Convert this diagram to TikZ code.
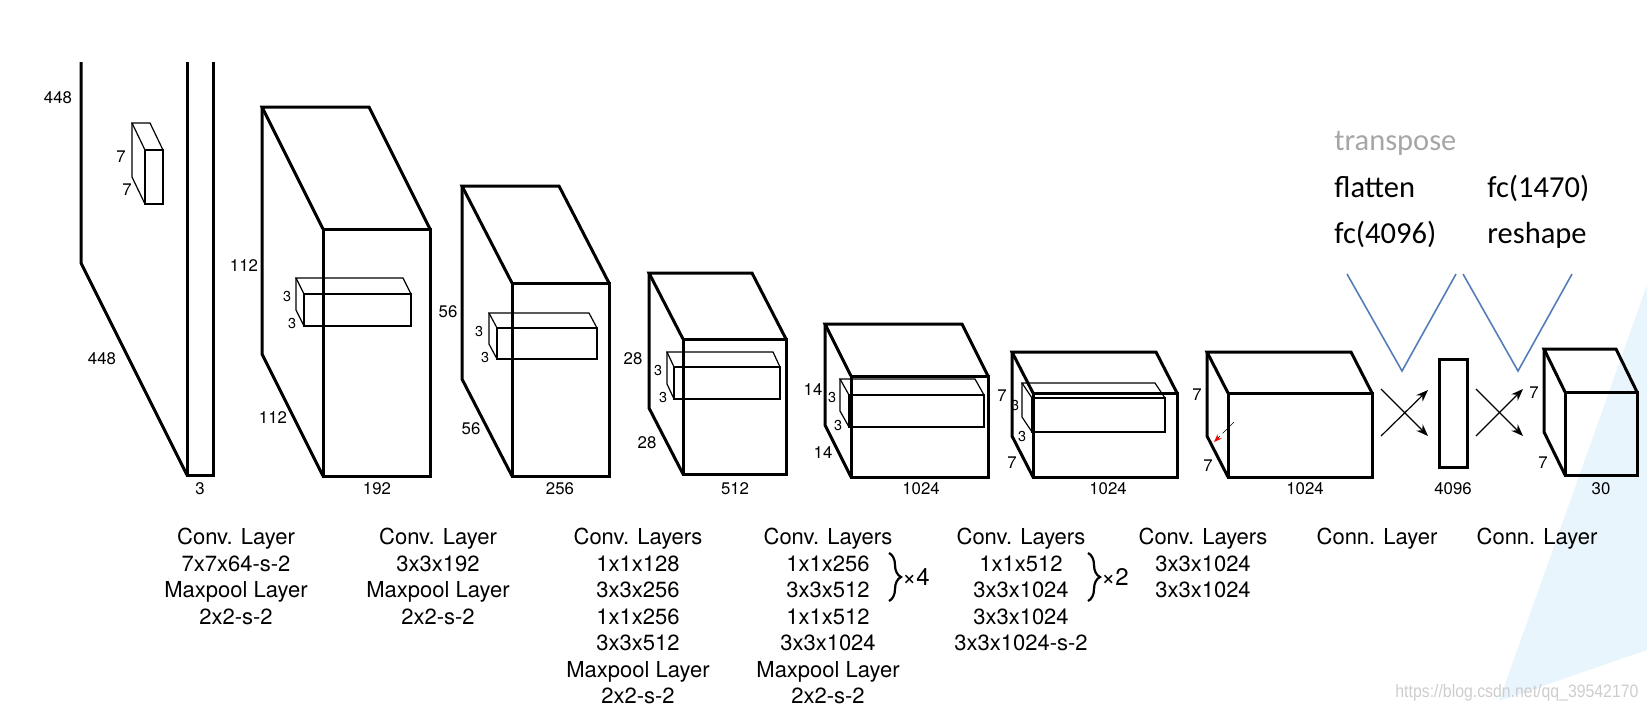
\documentclass[tikz,border=0pt]{standalone}
\usepackage{fontspec}
\setmainfont{TeX Gyre Heros}
\newfontfamily\notefont{Carlito}
\newfontfamily\markfont[FakeStretch=0.88]{Liberation Sans}
\usetikzlibrary{arrows.meta,positioning,decorations.pathreplacing}
\definecolor{vline}{RGB}{84,125,185}
\definecolor{notegray}{RGB}{166,166,166}
\definecolor{wedge}{RGB}{233,245,253}
\definecolor{markgray}{RGB}{205,205,205}

% block: front top-left (#1,#2), width #3, height #4, depth (#5,#6)
\newcommand{\convblock}[6]{%
  \draw (#1,#2) rectangle ++(#3,#4);
  \draw (#1,#2) -- ++(-#5,-#6) -- ++(#3,0) -- ++(#5,#6);
  \draw (#1,#2) ++(-#5,-#6) -- ++(0,#4) -- ++(#5,#6);
}

\begin{document}
\begin{tikzpicture}[x=0.5pt, y=-0.5pt,
    thickline/.style={line width=1.5pt},
    thinline/.style={line width=0.6pt},
    dimlabel/.style={font=\fontsize{8.4}{10}\selectfont, inner sep=0pt},
    kernlabel/.style={font=\fontsize{7.2}{9}\selectfont, inner sep=0pt},
    layertext/.style={font=\fontsize{11}{13.25}\selectfont, align=center, anchor=north, inner sep=0pt},
    note/.style={font=\notefont\fontsize{15.25}{18}\selectfont, anchor=base west, inner sep=0pt},
    xarrow/.style={line width=0.6pt, -{Stealth[length=6pt, width=4.5pt]}},
    vstroke/.style={vline, line width=0.8pt},
    repbrace/.style={line width=1.1pt, decoration={brace, amplitude=6pt}, decorate},
    reptext/.style={font=\fontsize{12}{14}\selectfont, anchor=west, inner sep=0pt}]

    \useasboundingbox (0,0) rectangle (1647,709);

    % Background wedge
    \fill[wedge] (1647,285) -- (1647,650) -- (1499,701) -- cycle;

    % Input slab
    \draw[thickline] (81,62) -- (81,263) -- (187,475);
    \draw[thickline] (187,62) -- (187,475) -- (213,475) -- (213,62);
    \begin{scope}[thinline]
        \convblock{145}{150}{18}{54}{13}{27}
    \end{scope}
    \node[dimlabel] (inh) at (58,98) {448};
    \node[dimlabel] (inw) at (102,359) {448};
    \node[dimlabel] (k1h) at (121,157) {7};
    \node[dimlabel] (k1w) at (127,190) {7};
    \node[dimlabel] (inc) at (200,489) {3};

    % Block 2
    \begin{scope}[thickline]
        \convblock{323}{229}{107}{247}{61}{122}
    \end{scope}
    \begin{scope}[thinline]
        \convblock{304}{294}{107}{32}{8}{16}
    \end{scope}
    \node[dimlabel] (b2h) at (244,266) {112};
    \node[dimlabel] (b2w) at (273,418) {112};
    \node[kernlabel] (k2h) at (287,296) {3};
    \node[kernlabel] (k2w) at (292,323) {3};
    \node[dimlabel] (b2c) at (377,489) {192};

    % Block 3
    \begin{scope}[thickline]
        \convblock{512}{283}{97}{193}{50}{97}
    \end{scope}
    \begin{scope}[thinline]
        \convblock{497}{328}{100}{31}{8}{15}
    \end{scope}
    \node[dimlabel] (b3h) at (448,312) {56};
    \node[dimlabel] (b3w) at (471,429) {56};
    \node[kernlabel] (k3h) at (479,331) {3};
    \node[kernlabel] (k3w) at (485,357) {3};
    \node[dimlabel] (b3c) at (560,489) {256};

    % Block 4
    \begin{scope}[thickline]
        \convblock{683}{339}{103}{135}{34}{66}
    \end{scope}
    \begin{scope}[thinline]
        \convblock{674}{367}{106}{32}{7}{15}
    \end{scope}
    \node[dimlabel] (b4h) at (633,359) {28};
    \node[dimlabel] (b4w) at (647,443) {28};
    \node[kernlabel] (k4h) at (658,370) {3};
    \node[kernlabel] (k4w) at (663,397) {3};
    \node[dimlabel] (b4c) at (735,489) {512};

    % Block 5
    \begin{scope}[thickline]
        \convblock{851}{376}{137}{101}{26}{52}
    \end{scope}
    \begin{scope}[thinline]
        \convblock{849}{395}{135}{32}{9}{16}
    \end{scope}
    \node[dimlabel] (b5h) at (813,390) {14};
    \node[dimlabel] (b5w) at (823,453) {14};
    \node[kernlabel] (k5h) at (832,397) {3};
    \node[kernlabel] (k5w) at (838,425) {3};
    \node[dimlabel] (b5c) at (921,489) {1024};

    % Block 6
    \begin{scope}[thickline]
        \convblock{1033}{393}{144}{84}{21}{41}
    \end{scope}
    \begin{scope}[thinline]
        \convblock{1032}{398}{133}{34}{10}{15}
    \end{scope}
    \node[dimlabel] (b6h) at (1002,396) {7};
    \node[dimlabel] (b6w) at (1012,463) {7};
    \node[kernlabel] (k6h) at (1015,405) {3};
    \node[kernlabel] (k6w) at (1022,436) {3};
    \node[dimlabel] (b6c) at (1108,489) {1024};

    % Block 7
    \begin{scope}[thickline]
        \convblock{1228}{393}{144}{84}{21}{41}
    \end{scope}
    \node[dimlabel] (b7h) at (1197,395) {7};
    \node[dimlabel] (b7w) at (1208,466) {7};
    \node[dimlabel] (b7c) at (1305,489) {1024};
    \coordinate (cur1) at (1234,422);
    \coordinate (cur2) at (1214,442);
    \draw[line width=0.3pt, densely dashed, -{Stealth[color=red, length=4pt, width=3pt]}] (cur1) -- (cur2);

    % Fully connected vector
    \draw[thickline] (1439,359) rectangle (1467,467);
    \node[dimlabel] (fcc) at (1453,489) {4096};

    % Output block
    \begin{scope}[thickline]
        \convblock{1565}{392}{72}{83}{21}{43}
    \end{scope}
    \node[dimlabel] (b8h) at (1534,393) {7};
    \node[dimlabel] (b8w) at (1543,463) {7};
    \node[dimlabel] (b8c) at (1601,489) {30};

    % Crossing arrows
    \coordinate (xa1) at (1381,389);
    \coordinate (xa2) at (1428,436);
    \coordinate (xa3) at (1381,436);
    \coordinate (xa4) at (1428,390);
    \coordinate (xb1) at (1476,389);
    \coordinate (xb2) at (1523,436);
    \coordinate (xb3) at (1476,436);
    \coordinate (xb4) at (1523,389);
    \draw[xarrow] (xa1) -- (xa2);
    \draw[xarrow] (xa3) -- (xa4);
    \draw[xarrow] (xb1) -- (xb2);
    \draw[xarrow] (xb3) -- (xb4);

    % Notes
    \node[note, text=notegray] (transpose) at (1334,150) {transpose};
    \node[note] (flatten) at (1334,197) {flatten};
    \node[note] (fcfour) at (1334,243) {fc(4096)};
    \node[note] (fcout) at (1487,197) {fc(1470)};
    \node[note] (reshape) at (1487,243) {reshape};
    \coordinate (v1a) at (1347,274);
    \coordinate (v1b) at (1402,371);
    \coordinate (v1c) at (1456,274);
    \coordinate (v2a) at (1463,274);
    \coordinate (v2b) at (1518,371);
    \coordinate (v2c) at (1572,274);
    \draw[vstroke] (v1a) -- (v1b) -- (v1c);
    \draw[vstroke] (v2a) -- (v2b) -- (v2c);

    % Layer descriptions
    \node[layertext] (desc1) at (236,528) {Conv. Layer\\7x7x64-s-2\\Maxpool Layer\\2x2-s-2};
    \node[layertext] (desc2) at (438,528) {Conv. Layer\\3x3x192\\Maxpool Layer\\2x2-s-2};
    \node[layertext] (desc3) at (638,528) {Conv. Layers\\1x1x128\\3x3x256\\1x1x256\\3x3x512\\Maxpool Layer\\2x2-s-2};
    \node[layertext] (desc4) at (828,528) {Conv. Layers\\1x1x256\\3x3x512\\1x1x512\\3x3x1024\\Maxpool Layer\\2x2-s-2};
    \node[layertext] (desc5) at (1021,528) {Conv. Layers\\1x1x512\\3x3x1024\\3x3x1024\\3x3x1024-s-2};
    \node[layertext] (desc6) at (1203,528) {Conv. Layers\\3x3x1024\\3x3x1024};
    \node[layertext] (desc7) at (1377,528) {Conn. Layer};
    \node[layertext] (desc8) at (1537,528) {Conn. Layer};

    % Repeat braces
    \coordinate (r4a) at (889,553);
    \coordinate (r4b) at (889,601);
    \coordinate (r2a) at (1088,553);
    \coordinate (r2b) at (1088,601);
    \draw[repbrace] (r4a) -- (r4b);
    \draw[repbrace] (r2a) -- (r2b);
    \node[reptext] (rep4) at (902,577) {×4};
    \node[reptext] (rep2) at (1101,577) {×2};

    % Watermark
    \node[font=\markfont\fontsize{9}{10}\selectfont, text=markgray, anchor=base west, inner sep=0pt] (mark) at (1395,697) {https://blog.csdn.net/qq\_39542170};
\end{tikzpicture}
\end{document}
